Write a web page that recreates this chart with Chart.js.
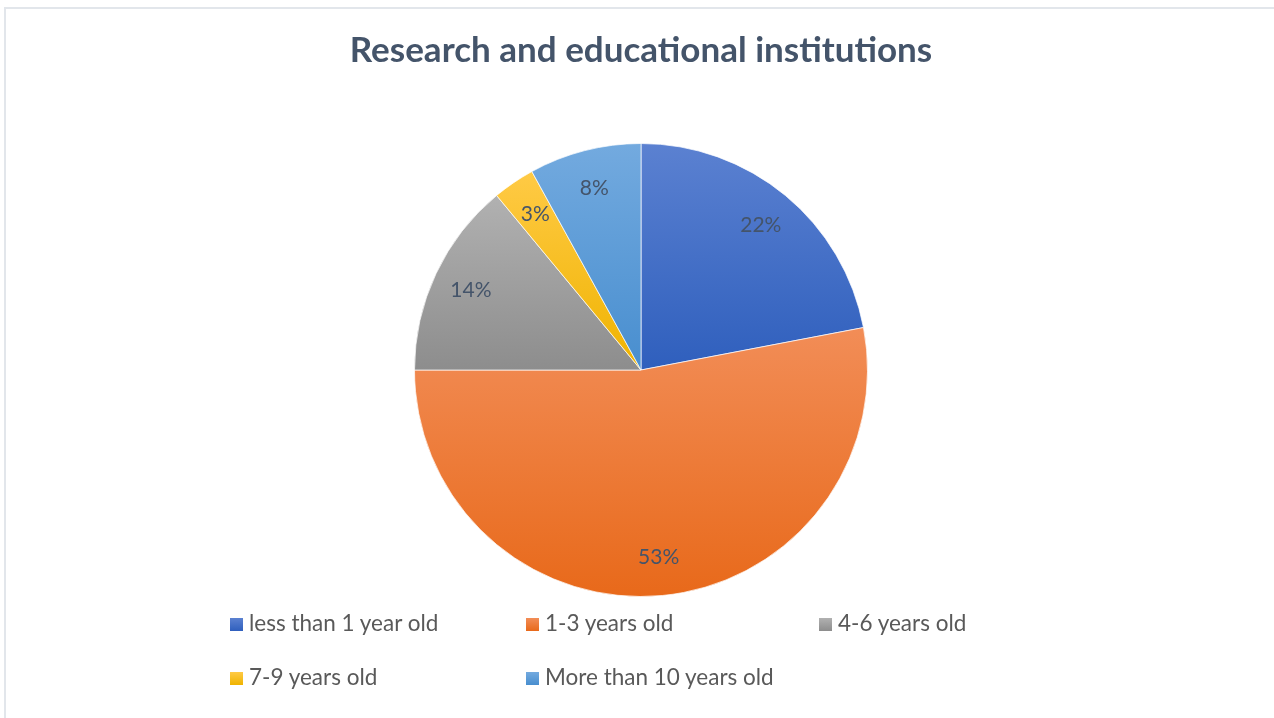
<!DOCTYPE html>
<html>
<head>
<meta charset="utf-8">
<script src="https://cdn.jsdelivr.net/npm/chart.js@4"></script>
<style>
  html, body { margin: 0; padding: 0; background: #fff; }
  #wrap { position: relative; width: 1274px; height: 718px; overflow: hidden; }
  #frame { position: absolute; left: 4px; top: 7px; width: 1300px; height: 760px;
           border-left: 2px solid #E2E6EB; border-top: 2px solid #E2E6EB; }
  #myChart { position: absolute; left: 0; top: 0; }
  .leg { position: absolute; font-family: Lato, "Liberation Sans", sans-serif; font-size: 22.5px;
         color: #595959; white-space: nowrap; line-height: 26px; }
  .leg i { display: inline-block; width: 13px; height: 13px; margin-right: 6px; vertical-align: 0px; }
</style>
</head>
<body>
<div id="wrap">
  <div id="frame"></div>
  <canvas id="myChart" width="1274" height="718"></canvas>
  <div id="legend"></div>
</div>
<script>
var ctx = document.getElementById("myChart");

var ages = ["less than 1 year old", "1-3 years old", "4-6 years old", "7-9 years old", "More than 10 years old"];
var shares = [22, 53, 14, 3, 8];
var topColors = ["#5B81D1", "#F28D57", "#B1B1B1", "#FFCA45", "#73AADF"];
var bottomColors = ["#2F5FBD", "#E8691A", "#8D8D8D", "#EFB300", "#488ECF"];

// legend spots: three columns, two rows
var legendX = [230, 526, 819];
var legendY = [610, 664];

// vertical extent of each slice, so the shading runs top to bottom of the slice itself
function sliceGradient(c, arc, i) {
  var ys = [arc.y, arc.y + arc.outerRadius * Math.sin(arc.startAngle), arc.y + arc.outerRadius * Math.sin(arc.endAngle)];
  for (var k = -2; k <= 2; k++) {
    var top = -Math.PI / 2 + 2 * Math.PI * k, bot = Math.PI / 2 + 2 * Math.PI * k;
    if (top > arc.startAngle && top < arc.endAngle) ys.push(arc.y - arc.outerRadius);
    if (bot > arc.startAngle && bot < arc.endAngle) ys.push(arc.y + arc.outerRadius);
  }
  var g = c.createLinearGradient(0, Math.min.apply(null, ys), 0, Math.max.apply(null, ys));
  g.addColorStop(0, topColors[i]);
  g.addColorStop(1, bottomColors[i]);
  return g;
}

var shading = {
  id: "shading",
  beforeDatasetsDraw: function (chart) {
    chart.getDatasetMeta(0).data.forEach(function (arc, i) {
      arc.options.backgroundColor = sliceGradient(chart.ctx, arc, i);
    });
  }
};

var pctLabels = {
  id: "pctLabels",
  afterDatasetsDraw: function (chart) {
    var c = chart.ctx;
    c.save();
    c.font = "21px Lato, 'Liberation Sans', sans-serif";
    c.fillStyle = "#44546A";
    c.textAlign = "center";
    c.textBaseline = "middle";
    chart.getDatasetMeta(0).data.forEach(function (arc, i) {
      var mid = (arc.startAngle + arc.endAngle) / 2;
      var r = arc.outerRadius * 0.83;
      c.fillText(shares[i] + "%", arc.x + r * Math.cos(mid), arc.y + r * Math.sin(mid));
    });
    c.restore();
  }
};

var myChart = new Chart(ctx, {
  type: "pie",
  data: {
    labels: ages,
    datasets: [
      {
        data: shares,
        backgroundColor: topColors,
        borderColor: "rgba(255, 255, 255, 0.7)",
        borderWidth: 1
      }
    ]
  },
  options: {
    responsive: false,
    animation: false,
    layout: { padding: { left: 8, right: 0, top: 0, bottom: 121 } },
    plugins: {
      legend: { display: false },
      tooltip: { enabled: false },
      title: {
        display: true,
        text: "Research and educational institutions",
        color: "#44546A",
        font: { family: "Lato, 'Liberation Sans', sans-serif", size: 35, weight: "bold", lineHeight: 1.2 },
        padding: { top: 30, bottom: 71 }
      }
    }
  },
  plugins: [shading, pctLabels]
});

// legend rows built from the same arrays
var legend = document.getElementById("legend");
ages.forEach(function (name, i) {
  var d = document.createElement("div");
  d.className = "leg";
  d.style.left = legendX[i % 3] + "px";
  d.style.top = legendY[Math.floor(i / 3)] + "px";
  var box = document.createElement("i");
  box.style.background = "linear-gradient(" + topColors[i] + ", " + bottomColors[i] + ")";
  d.appendChild(box);
  d.appendChild(document.createTextNode(name));
  legend.appendChild(d);
});
</script>
</body>
</html>
